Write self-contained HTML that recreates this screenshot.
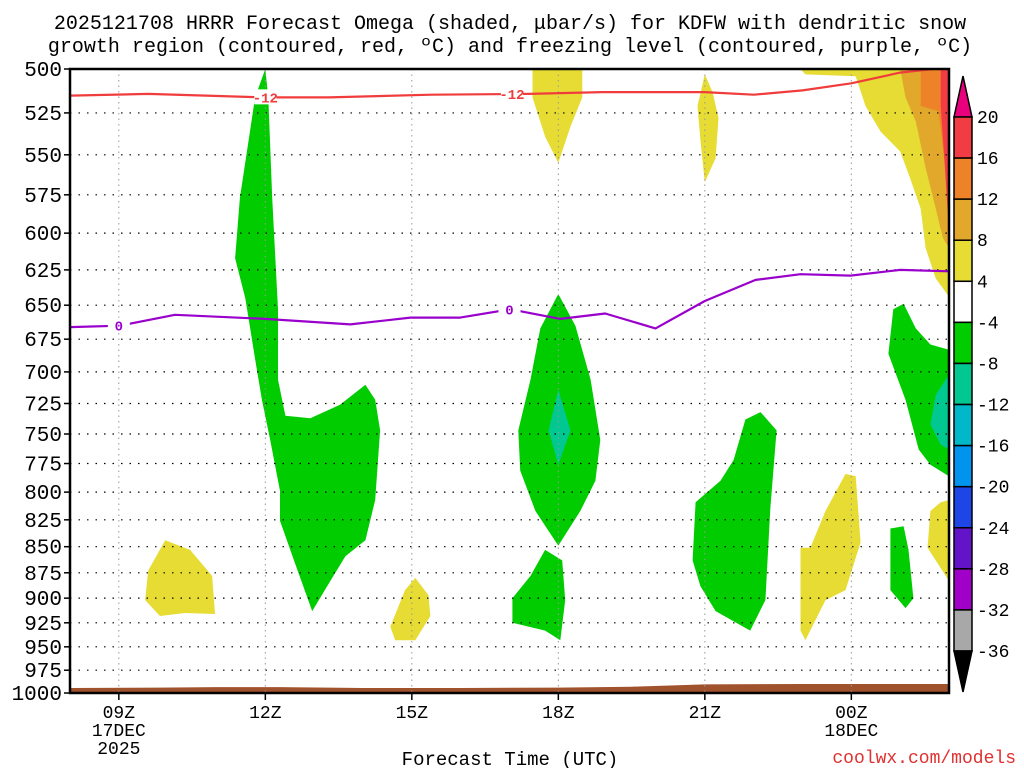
<!DOCTYPE html>
<html><head><meta charset="utf-8">
<style>
body{margin:0;background:#fff;}
svg{display:block;font-family:"Liberation Mono","DejaVu Sans Mono",monospace;}
</style></head>
<body>
<svg id="chart" width="1024" height="768" viewBox="0 0 1024 768" xmlns="http://www.w3.org/2000/svg">
<text x="510" y="29" font-size="20" text-anchor="middle" fill="#000">2025121708 HRRR Forecast Omega (shaded, μbar/s) for KDFW with dendritic snow</text>
<text x="510" y="52" font-size="20" text-anchor="middle" fill="#000">growth region (contoured, red, ºC) and freezing level (contoured, purple, ºC)</text>
<g id="shades"></g>
<g id="grid"></g>
<g id="lines"></g>
<g id="axes"></g>
<g id="cbar"></g>
<text x="510" y="765" font-size="19" text-anchor="middle">Forecast Time (UTC)</text>
<text x="1016" y="763" font-size="18" text-anchor="end" fill="#e03030">coolwx.com/models</text>
</svg>
<script>
// ---- data ----
const pressureTicks=[500,525,550,575,600,625,650,675,700,725,750,775,800,825,850,875,900,925,950,975,1000];
const timeTickHours=[9,12,15,18,21,24];
const timeTickLabels=[["09Z","17DEC","2025"],["12Z"],["15Z"],["18Z"],["21Z"],["00Z","18DEC"]];
const cbarLevels=[20,16,12,8,4,-4,-8,-12,-16,-20,-24,-28,-32,-36];
const cbarColors=["#f23c44","#ee8228","#e2a82c","#e6dc34","#ffffff","#00cc00","#00c890","#00b8c8","#0094ee","#1e46e6","#6414c8","#a000c8","#a8a8a8"];
// shaded omega regions: [hour, pressure]
const shadeColors={y:"#e6dc34",g:"#00cc00",t:"#00c890",gd:"#e2a82c",o:"#ee8228",r:"#f23c44"};
const shadeRegions=[
 ["y",[[22.96,500],[24.09,500],[26,500],[26,644],[25.73,631],[25.52,610],[25.42,584],[25.21,565],[25.0,548],[24.6,536],[24.29,521],[24.09,504],[23.06,503]]],
 ["gd",[[25.0,500],[26,500],[26,610],[25.87,603],[25.73,584],[25.52,558],[25.32,530],[25.11,516]]],
 ["o",[[25.42,500],[26,500],[26,577],[25.87,545],[25.79,524],[25.42,521]]],
 ["r",[[25.83,500],[26,500],[26,600],[25.9,550],[25.83,521]]],
 ["g",[[12.0,500],[11.79,516],[11.48,577],[11.38,617],[11.59,645],[11.79,690],[11.93,722],[12.10,755],[12.30,799],[12.30,826],[12.61,866],[12.96,913],[13.33,883],[13.64,859],[14.05,844],[14.25,807],[14.35,747],[14.25,722],[14.05,710],[13.53,726],[12.92,737],[12.41,735],[12.26,706],[12.26,653],[12.14,577],[12.06,516]]],
 ["y",[[9.54,902],[9.60,873],[9.95,844],[10.46,853],[10.91,878],[10.97,916],[10.36,915],[9.84,918]]],
 ["y",[[14.56,929],[14.86,892],[15.07,880],[15.34,897],[15.38,918],[15.07,943],[14.66,943]]],
 ["y",[[17.47,500],[17.47,516],[17.73,539],[18.0,555],[18.25,533],[18.49,516],[18.49,500]]],
 ["g",[[18.0,642],[17.63,667],[17.43,706],[17.18,747],[17.22,781],[17.53,817],[18.0,849],[18.45,817],[18.76,790],[18.86,755],[18.66,706],[18.35,665]]],
 ["t",[[18.0,714],[17.8,747],[18.0,776],[18.25,747]]],
 ["g",[[17.73,853],[17.43,878],[17.06,900],[17.06,925],[17.73,933],[18.04,943],[18.14,902],[18.08,863]]],
 ["y",[[21.0,503],[20.85,521],[20.91,541],[21.0,567],[21.22,552],[21.28,528],[21.16,513]]],
 ["g",[[20.81,809],[20.75,863],[20.91,888],[21.22,913],[21.93,933],[22.24,902],[22.34,815],[22.47,747],[22.14,732],[21.83,738],[21.59,772],[21.32,790]]],
 ["y",[[22.96,851],[22.96,933],[23.06,943],[23.47,902],[23.88,892],[24.19,846],[24.09,786],[23.88,784],[23.47,817],[23.16,851]]],
 ["g",[[24.80,833],[24.80,892],[25.11,910],[25.27,900],[25.17,853],[25.07,831]]],
 ["g",[[24.86,653],[24.76,686],[25.11,722],[25.38,763],[25.62,776],[26,786],[26,683],[25.62,679],[25.32,667],[25.07,649]]],
 ["t",[[26,702],[25.73,718],[25.62,742],[25.83,759],[26,763]]],
 ["y",[[25.62,817],[25.56,851],[26,883],[26,807],[25.83,809]]]
];
const surfHours=[8,9.8,11,12.3,13.3,14,16,18,19.5,21,23,26];
const surfPres=[994.5,994,993.5,993.5,994,994.5,994.5,994,993,990.5,990,990];
const dgzHours=[8,9.6,12,13.3,15.4,17.4,18.9,21,22,23,24,25,26];
const dgzPres=[515,514,516,516,514.5,514,513,513,514.5,512,508,502,499];
const fzHours=[8,9.02,10.15,12,13.74,14.97,15.99,17.02,18.04,18.96,19.99,21,22.04,22.96,23.98,25,26];
const fzPres=[666,665,657,660,664,659,659,653,660,656,667,647,632,628,629,625,626];

// ---- axes ----
const X0=70,X1=949,Y0=69,Y1=693,H0=8,H1=26;
const xS=h=>X0+(h-H0)/(H1-H0)*(X1-X0);
const yS=p=>Y0+Math.log(p/500)/Math.log(2)*(Y1-Y0);
const NS="http://www.w3.org/2000/svg";
function mk(tag,parent,attrs){const e=document.createElementNS(NS,tag);for(const k in attrs)e.setAttribute(k,attrs[k]);document.getElementById(parent).appendChild(e);return e;}
const pts=a=>a.map(d=>xS(d[0]).toFixed(1)+","+yS(d[1]).toFixed(1)).join(" ");

{const cp=mk("clipPath","shades",{id:"pc"});
 const r=document.createElementNS(NS,"rect");
 r.setAttribute("x",X0);r.setAttribute("y",Y0);r.setAttribute("width",X1-X0);r.setAttribute("height",Y1-Y0);
 cp.appendChild(r);}

shadeRegions.forEach((r,i)=>{
 const e=mk("polygon","shades",{points:pts(r[1]),fill:shadeColors[r[0]],"clip-path":"url(#pc)"});
 
 
});
// terrain
{const a=surfHours.map((h,i)=>[h,surfPres[i]]);a.push([26,1000],[8,1000]);
 const e=mk("polygon","shades",{points:pts(a),fill:"#a0522d"});
 
 }

// grid
pressureTicks.forEach(p=>{
 const e=mk("line","grid",{x1:X0,x2:X1,y1:yS(p),y2:yS(p),stroke:"#000","stroke-width":1.2,"stroke-dasharray":"1.5 7"});
 
 
 const t=mk("line","axes",{x1:X0-6,x2:X0,y1:yS(p),y2:yS(p),stroke:"#000","stroke-width":1.5});
 
 
 const l=mk("text","axes",{x:X0-8,y:yS(p)+7,"font-size":21,"text-anchor":"end",fill:"#000"});
 l.textContent=p;
 
 
});
timeTickHours.forEach((h,i)=>{
 const e=mk("line","grid",{x1:xS(h),x2:xS(h),y1:Y0,y2:Y1,stroke:"#999","stroke-width":1,"stroke-dasharray":"1.5 4"});
 
 
 const t=mk("line","axes",{x1:xS(h),x2:xS(h),y1:Y1,y2:Y1+7,stroke:"#000","stroke-width":1.5});
 
 
 timeTickLabels[i].forEach((s,j)=>{
  const l=mk("text","axes",{x:xS(h),y:Y1+25+j*18,"font-size":18,"text-anchor":"middle",fill:"#000"});
  l.textContent=s;
  
  
 });
});
{const e=mk("rect","axes",{x:X0,y:Y0,width:X1-X0,height:Y1-Y0,fill:"none",stroke:"#000","stroke-width":2.5});
 
 }

// contour lines
function line(hs,ps,color,name){
 const d=hs.map((h,i)=>(i?"L":"M")+xS(h).toFixed(1)+","+yS(ps[i]).toFixed(1)).join("");
 const e=mk("path","lines",{d:d,fill:"none",stroke:color,"stroke-width":2.2,"stroke-linejoin":"round","clip-path":"url(#pc)"});
 
 
}
line(dgzHours,dgzPres,"#f03c3c","dgz-contour-minus12");
line(fzHours,fzPres,"#9a00cc","freezing-level-contour");
function clabel(h,p,s,color,name){
 const r=mk("rect","lines",{x:xS(h)-11,y:yS(p)-8,width:22,height:15,fill:"#fff"});
 
 
 const t=mk("text","lines",{x:xS(h),y:yS(p)+5,"font-size":14,"font-weight":"bold","text-anchor":"middle",fill:color});
 t.textContent=s;
 
 
}
clabel(12,516,"-12","#f03c3c","dgz-label-1");
clabel(17.05,514,"-12","#f03c3c","dgz-label-2");
clabel(9,665,"0","#9a00cc","fz-label-1");
clabel(17,653,"0","#9a00cc","fz-label-2");

// colorbar
const CX=954,CW=18,CT=117,CB=651;
const step=(CB-CT)/(cbarLevels.length-1);
{const e=mk("polygon","cbar",{points:`${CX},${CT} ${CX+CW},${CT} ${CX+CW/2},${CT-41}`,fill:"#e8007c",stroke:"#000","stroke-width":1.5});
 
 }
cbarColors.forEach((c,i)=>{
 const e=mk("rect","cbar",{x:CX,y:CT+i*step,width:CW,height:step,fill:c,stroke:"#000","stroke-width":1.5});
 
 
});
{const e=mk("polygon","cbar",{points:`${CX},${CB} ${CX+CW},${CB} ${CX+CW/2},${CB+41}`,fill:"#000",stroke:"#000","stroke-width":1.5});
 
 }
cbarLevels.forEach((v,i)=>{
 const t=mk("text","cbar",{x:CX+CW+5,y:CT+i*step+6,"font-size":18,fill:"#000"});
 t.textContent=v;
 
 
});
</script>
</body></html>
